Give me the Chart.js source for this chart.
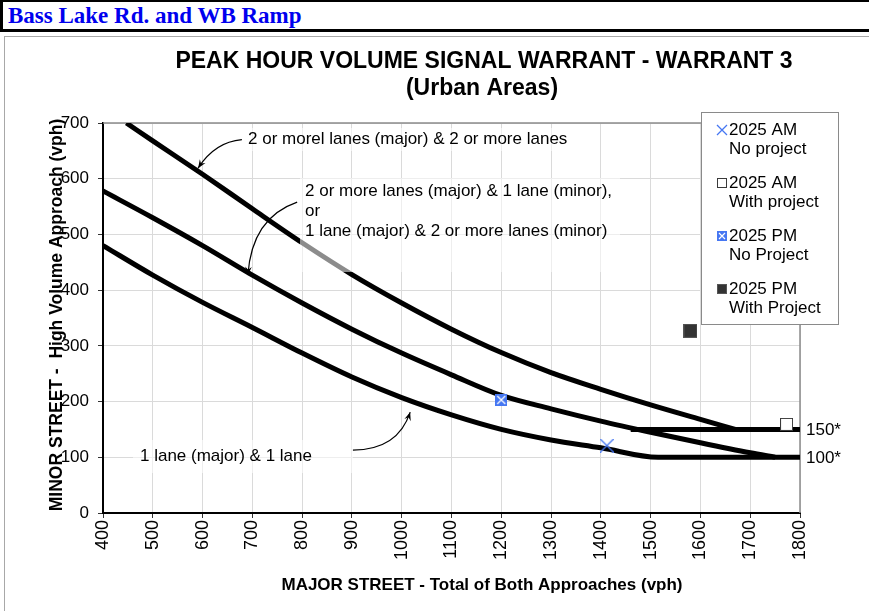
<!DOCTYPE html>
<html>
<head>
<meta charset="utf-8">
<title>Peak Hour Volume Signal Warrant - Warrant 3</title>
<script src="https://cdn.jsdelivr.net/npm/chart.js@4.4.1/dist/chart.umd.min.js"></script>
<style>
  html, body { margin: 0; padding: 0; background: #fff; width: 869px; height: 611px; overflow: hidden; }
  #hdr {
    position: absolute; left: 0; top: 0; width: 880px; height: 27px;
    border-top: 2px solid #000; border-left: 3px solid #000; border-bottom: 3px solid #000;
    font: bold 23px "Liberation Serif", "Times New Roman", serif; color: #0000ee;
    line-height: 28px; padding-left: 5px; white-space: nowrap;
  }
  #frame { position: absolute; left: 4px; top: 36px; width: 900px; height: 600px; border: 1px solid #a8a8a8; }
  #c { position: absolute; left: 0; top: 0; }
</style>
</head>
<body>
<div id="hdr">Bass Lake Rd. and WB Ramp</div>
<div id="frame"></div>
<canvas id="c" width="869" height="611"></canvas>
<script>
const FONT = '"Liberation Sans", Arial, Helvetica, sans-serif';

// Warrant curves: major street total (vph) vs. minor street high-volume approach (vph)
const twoTwoMajor = [447, 500, 600, 700, 800, 900, 1000, 1100, 1200, 1300, 1400, 1500, 1600, 1670];
const twoTwoMinor = [700, 668, 608, 546, 485, 428, 377, 330, 288, 252, 222, 194, 168, 150];
const twoOneMajor = [400, 500, 600, 700, 800, 900, 1000, 1100, 1200, 1300, 1400, 1500, 1600, 1700, 1750];
const twoOneMinor = [578, 530, 480, 427, 377, 330, 287, 248, 211, 187, 165, 145, 126, 108, 100];
const oneOneMajor = [400, 500, 600, 700, 800, 900, 1000, 1100, 1200, 1300, 1400, 1515, 1800];
const oneOneMinor = [480, 427, 378, 333, 287, 244, 207, 176, 150, 131, 117, 100, 100];
const floor150Major = [1460, 1800];
const floor150Minor = [150, 150];

// Study scenarios
const scenarioLine1 = ['2025 AM', '2025 AM', '2025 PM', '2025 PM'];
const scenarioLine2 = ['No project', 'With project', 'No Project', 'With Project'];
const scenarioMajor = [1412, 1773, 1200, 1580];
const scenarioMinor = [121, 159, 203, 327];

// Axis ranges
const majorRange = [400, 1800, 100];
const minorRange = [0, 700, 100];

// Floor labels at the right edge
const floorValues = [150, 100];
const floorLabels = ['150*', '100*'];

// Curve call-outs
const calloutLines = [
  ['2 or morel lanes (major) & 2 or more lanes'],
  ['2 or more lanes (major) & 1 lane (minor),', 'or', '1 lane (major) & 2 or more lanes (minor)'],
  ['1 lane (major) & 1 lane']
];

const BLUE = '#4677f2';

function drawMarker(ctx, kind, cx, cy, s) {
  const h = s / 2;
  ctx.save();
  if (kind === 0) {
    ctx.strokeStyle = BLUE; ctx.lineWidth = 1.3;
    ctx.beginPath();
    ctx.moveTo(cx - h, cy - h); ctx.lineTo(cx + h, cy + h);
    ctx.moveTo(cx + h, cy - h); ctx.lineTo(cx - h, cy + h);
    ctx.stroke();
  } else if (kind === 1) {
    ctx.fillStyle = '#fff'; ctx.fillRect(cx - h, cy - h, s, s);
    ctx.strokeStyle = '#3a3a3a'; ctx.lineWidth = 1;
    ctx.strokeRect(cx - h + 0.5, cy - h + 0.5, s - 1, s - 1);
  } else if (kind === 2) {
    ctx.fillStyle = BLUE; ctx.fillRect(cx - h, cy - h, s, s);
    ctx.strokeStyle = '#fff'; ctx.lineWidth = 1.2;
    const k = h - 2;
    ctx.beginPath();
    ctx.moveTo(cx - k, cy - k); ctx.lineTo(cx + k, cy + k);
    ctx.moveTo(cx + k, cy - k); ctx.lineTo(cx - k, cy + k);
    ctx.stroke();
  } else {
    ctx.fillStyle = '#333'; ctx.fillRect(cx - h, cy - h, s, s);
    ctx.strokeStyle = '#555'; ctx.lineWidth = 1;
    ctx.strokeRect(cx - h + 0.5, cy - h + 0.5, s - 1, s - 1);
  }
  ctx.restore();
}

function markerImage(kind, s) {
  const c = document.createElement('canvas');
  c.width = s; c.height = s;
  drawMarker(c.getContext('2d'), kind, s / 2, s / 2, s);
  return c;
}

const markerSizes = [14, 13, 12, 14];

function curve(xs, ys) {
  return {
    data: xs.map((x, i) => ({ x, y: ys[i] })),
    showLine: true,
    borderColor: '#000',
    borderWidth: 5,
    pointRadius: 0,
    cubicInterpolationMode: 'monotone',
    borderCapStyle: 'butt',
    order: 1
  };
}

const datasets = [];
scenarioMajor.forEach((x, i) => {
  datasets.push({
    label: scenarioLine1[i] + ' ' + scenarioLine2[i],
    data: [{ x, y: scenarioMinor[i] }],
    pointStyle: markerImage(i, markerSizes[i]),
    pointRadius: 7,
    showLine: false,
    order: 0
  });
});
datasets.push(curve(twoTwoMajor, twoTwoMinor));
datasets.push(curve(twoOneMajor, twoOneMinor));
datasets.push(curve(oneOneMajor, oneOneMinor));
datasets.push(curve(floor150Major, floor150Minor));

function arrow(ctx, x0, y0, cx, cy, x1, y1) {
  ctx.save();
  ctx.strokeStyle = '#000'; ctx.fillStyle = '#000'; ctx.lineWidth = 1.2;
  ctx.beginPath(); ctx.moveTo(x0, y0); ctx.quadraticCurveTo(cx, cy, x1, y1); ctx.stroke();
  const ang = Math.atan2(y1 - cy, x1 - cx);
  const L = 9, W = 0.38;
  ctx.beginPath();
  ctx.moveTo(x1, y1);
  ctx.lineTo(x1 - L * Math.cos(ang - W), y1 - L * Math.sin(ang - W));
  ctx.lineTo(x1 - L * 0.6 * Math.cos(ang), y1 - L * 0.6 * Math.sin(ang));
  ctx.lineTo(x1 - L * Math.cos(ang + W), y1 - L * Math.sin(ang + W));
  ctx.closePath(); ctx.fill();
  ctx.restore();
}

const decor = {
  id: 'decor',
  beforeDatasetsDraw(chart) {
    const { ctx, chartArea: a } = chart;
    ctx.save();
    ctx.strokeStyle = '#8c8c8c'; ctx.lineWidth = 1.5;
    ctx.beginPath();
    ctx.moveTo(a.left, a.top); ctx.lineTo(a.right, a.top); ctx.lineTo(a.right, a.bottom);
    ctx.stroke();
    ctx.restore();
  },
  afterDatasetsDraw(chart) {
    const { ctx, chartArea: a, scales } = chart;
    const X = v => scales.x.getPixelForValue(v);
    const Y = v => scales.y.getPixelForValue(v);
    ctx.save();
    // translucent call-out boxes
    ctx.fillStyle = 'rgba(255,255,255,0.55)';
    ctx.fillRect(244, 128, 334, 23);
    ctx.fillRect(300, 178, 320, 94);
    ctx.fillRect(133, 440, 220, 33);
    ctx.fillStyle = '#000';
    ctx.font = '17px ' + FONT;
    ctx.textBaseline = 'middle'; ctx.textAlign = 'left';
    ctx.fillText(calloutLines[0][0], 248, 139);
    ctx.fillText(calloutLines[1][0], 305, 191);
    ctx.fillText(calloutLines[1][1], 305, 211);
    ctx.fillText(calloutLines[1][2], 305, 231);
    ctx.fillText(calloutLines[2][0], 140, 456);
    ctx.restore();
    arrow(ctx, X(679), Y(670), X(625), Y(666), X(591), Y(619));
    arrow(ctx, X(790), Y(558), X(699), Y(530), X(691), Y(427));
    arrow(ctx, X(902), Y(113), X(992), Y(113), X(1017), Y(181));
    // floor labels
    ctx.save();
    ctx.font = '17px ' + FONT; ctx.fillStyle = '#000';
    ctx.textBaseline = 'middle'; ctx.textAlign = 'left';
    floorValues.forEach((v, i) => ctx.fillText(floorLabels[i], a.right + 6, Y(v) + 1));
    ctx.restore();
    // legend
    ctx.save();
    ctx.fillStyle = '#fff'; ctx.strokeStyle = '#8a8a8a'; ctx.lineWidth = 1;
    ctx.fillRect(701.5, 112.5, 137, 212); ctx.strokeRect(701.5, 112.5, 137, 212);
    ctx.font = '17px ' + FONT; ctx.fillStyle = '#000';
    ctx.textBaseline = 'middle'; ctx.textAlign = 'left';
    const legSizes = [10, 10, 10, 10];
    scenarioLine1.forEach((t, i) => {
      const y = 130 + i * 53;
      drawMarker(ctx, i, 722, y, legSizes[i]);
      ctx.fillStyle = '#000';
      ctx.fillText(t, 729, y);
      ctx.fillText(scenarioLine2[i], 729, y + 19.5);
    });
    ctx.restore();
  },
  afterDraw(chart) {
    const { ctx } = chart;
    ctx.save();
    ctx.fillStyle = '#000'; ctx.textAlign = 'center'; ctx.textBaseline = 'middle';
    ctx.font = 'bold 23px ' + FONT;
    ctx.fillText('PEAK HOUR VOLUME SIGNAL WARRANT - WARRANT 3', 484, 62);
    ctx.fillText('(Urban Areas)', 482, 89);
    ctx.font = 'bold 17px ' + FONT;
    ctx.fillText('MAJOR STREET - Total of Both Approaches (vph)', 482, 585);
    ctx.translate(57, 315); ctx.rotate(-Math.PI / 2);
    ctx.font = 'bold 17.5px ' + FONT;
    ctx.fillText('MINOR STREET -  High Volume Approach (vph)', 0, 0);
    ctx.restore();
  }
};

new Chart(document.getElementById('c'), {
  type: 'scatter',
  data: { datasets },
  options: {
    responsive: false,
    animation: false,
    events: [],
    layout: { padding: { top: 123, right: 69, left: 0, bottom: 0 } },
    plugins: { legend: { display: false }, tooltip: { enabled: false }, title: { display: false } },
    scales: {
      x: {
        type: 'linear', min: majorRange[0], max: majorRange[1],
        ticks: { stepSize: majorRange[2], minRotation: 90, maxRotation: 90, autoSkip: false,
                 callback: v => String(v),
                 font: { size: 18, family: FONT }, color: '#000', padding: 2 },
        grid: { color: '#dadada', tickColor: '#333', tickLength: 5 },
        border: { color: '#000', width: 2 },
        afterFit(s) { s.height = 98; }
      },
      y: {
        type: 'linear', min: minorRange[0], max: minorRange[1],
        ticks: { stepSize: minorRange[2], callback: v => String(v),
                 font: { size: 17, family: FONT }, color: '#000', padding: 9 },
        grid: { color: '#dadada', tickColor: '#333', tickLength: 5 },
        border: { color: '#000', width: 2 },
        afterFit(s) { s.width = 103; }
      }
    }
  },
  plugins: [decor]
});
</script>
</body>
</html>
